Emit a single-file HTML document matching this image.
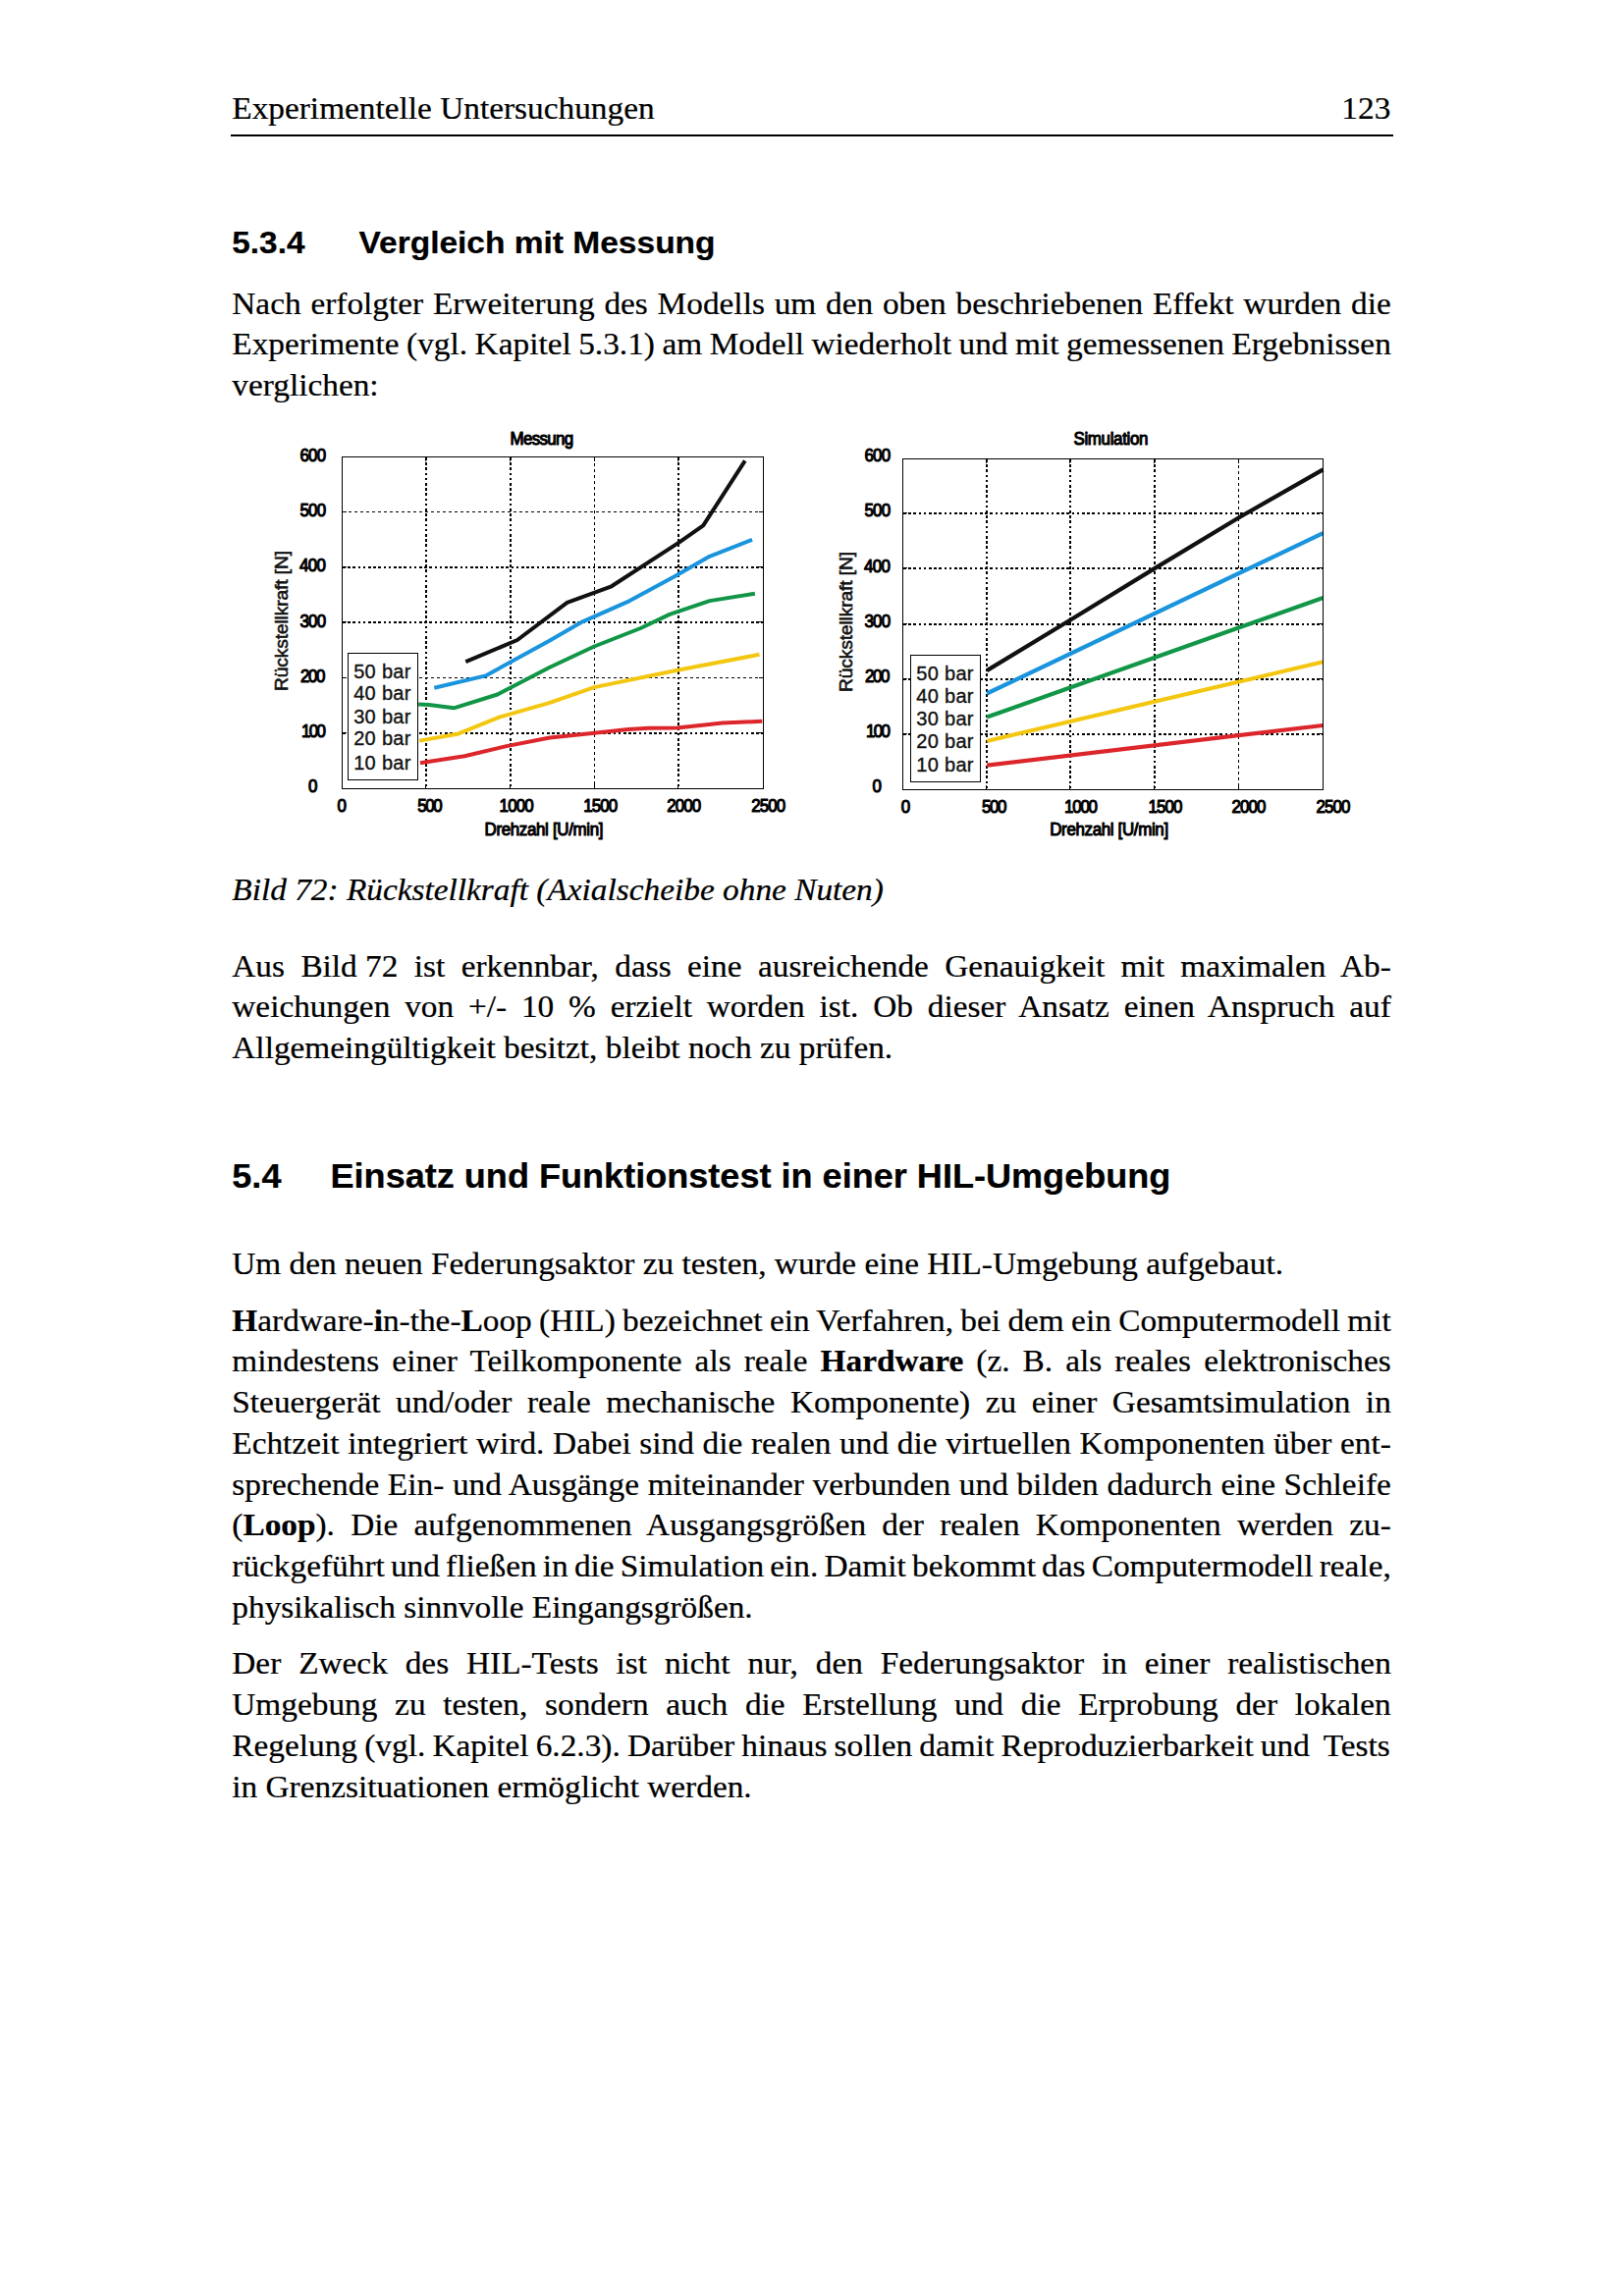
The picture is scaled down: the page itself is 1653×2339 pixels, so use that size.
<!DOCTYPE html>
<html lang="de"><head><meta charset="utf-8"><title>Experimentelle Untersuchungen 123</title>
<style>
html,body{margin:0;padding:0;background:#fff}
body{width:1653px;height:2339px;position:relative;overflow:hidden;color:#000;-webkit-text-stroke:0.25px #000;font-family:"Liberation Serif",serif;font-size:33.33px;line-height:42px}
.l{position:absolute;left:236.3px;width:1180.5px;white-space:nowrap;height:42px;transform-origin:0 32.25px;transform:scaleY(0.955)}
.cap{font-style:italic}
.nb{display:inline-block;word-spacing:0}
.hd{position:absolute;white-space:nowrap;transform-origin:0 32.25px;transform:scaleY(0.955)}
.rule{position:absolute;left:235px;width:1184px;top:137px;height:2px;background:#000}
.h{position:absolute;font-family:"Liberation Sans",sans-serif;font-weight:bold;line-height:44px;white-space:nowrap;transform:scaleY(0.95)}
.ch{position:absolute;left:0;top:0}
.g{stroke:#000;fill:none;shape-rendering:crispEdges}
.c{fill:none;stroke-linejoin:round;stroke-linecap:butt}
.bx{fill:none;stroke:#000;stroke-width:1;shape-rendering:crispEdges}
.lg{fill:#fff;stroke:#000;stroke-width:1;shape-rendering:crispEdges}
.lt{font-family:"Liberation Sans",sans-serif;font-size:20px;letter-spacing:0.3px;fill:#111;stroke:#111;stroke-width:0.35px}
.tk{font-family:"Liberation Sans",sans-serif;font-size:18.8px;fill:#000;stroke:#000;stroke-width:1.15px;stroke-linejoin:round}
.yl{font-family:"Liberation Sans",sans-serif;font-size:19.2px;fill:#111;stroke:#111;stroke-width:0.6px}
</style></head>
<body>

<div class="hd" style="top:88.55px;left:236.3px">Experimentelle Untersuchungen</div>
<div class="hd" style="top:88.55px;left:236.3px;width:1180.0px;text-align:right">123</div>
<div class="rule"></div>
<div class="h" style="top:225.35px;left:236.3px;font-size:33.33px;transform-origin:0 33.55px">5.3.4</div>
<div class="h" style="top:225.29px;left:365.5px;font-size:33.5px;transform-origin:0 33.61px">Vergleich mit Messung</div>
<div class="h" style="top:1176.49px;left:236.3px;font-size:36.1px;transform-origin:0 34.51px">5.4</div>
<div class="h" style="top:1176.49px;left:336.5px;font-size:36.1px;transform-origin:0 34.51px">Einsatz und Funktionstest in einer HIL-Umgebung</div>

<div class="l" style="top:287.85px;word-spacing:1.450px">Nach erfolgter Erweiterung des Modells um den oben beschriebenen Effekt wurden die</div>
<div class="l" style="top:329.35px;word-spacing:-0.823px">Experimente (vgl. Kapitel 5.3.1) am Modell wiederholt und mit gemessenen Ergebnissen</div>
<div class="l" style="top:370.85px">verglichen:</div>
<div class="l cap" style="top:885.15px">Bild 72: Rückstellkraft (Axialscheibe ohne Nuten)</div>
<div class="l" style="top:962.75px;word-spacing:8.042px">Aus <span class="nb">Bild&nbsp;72</span> ist erkennbar, dass eine ausreichende Genauigkeit mit maximalen Ab-</div>
<div class="l" style="top:1004.25px;word-spacing:6.492px">weichungen von +/- 10 % erzielt worden ist. Ob dieser Ansatz einen Anspruch auf</div>
<div class="l" style="top:1045.85px">Allgemeingültigkeit besitzt, bleibt noch zu prüfen.</div>
<div class="l" style="top:1266.45px">Um den neuen Federungsaktor zu testen, wurde eine HIL-Umgebung aufgebaut.</div>
<div class="l" style="top:1323.65px;word-spacing:-1.005px"><b>H</b>ardware-<b>i</b>n-the-<b>L</b>oop (HIL) bezeichnet ein Verfahren, bei dem ein Computermodell mit</div>
<div class="l" style="top:1365.41px;word-spacing:4.755px">mindestens einer Teilkomponente als reale <b>Hardware</b> (z. B. als reales elektronisches</div>
<div class="l" style="top:1407.17px;word-spacing:7.201px">Steuergerät und/oder reale mechanische Komponente) zu einer Gesamtsimulation in</div>
<div class="l" style="top:1448.93px;word-spacing:0.353px">Echtzeit integriert wird. Dabei sind die realen und die virtuellen Komponenten über ent-</div>
<div class="l" style="top:1490.69px;word-spacing:0.328px">sprechende Ein- und Ausgänge miteinander verbunden und bilden dadurch eine Schleife</div>
<div class="l" style="top:1532.45px;word-spacing:7.926px">(<b>Loop</b>). Die aufgenommenen Ausgangsgrößen der realen Komponenten werden zu-</div>
<div class="l" style="top:1574.21px;word-spacing:-2.152px">rückgeführt und fließen in die Simulation ein. Damit bekommt das Computermodell reale,</div>
<div class="l" style="top:1615.97px">physikalisch sinnvolle Eingangsgrößen.</div>
<div class="l" style="top:1673.35px;word-spacing:9.548px">Der Zweck des HIL-Tests ist nicht nur, den Federungsaktor in einer realistischen</div>
<div class="l" style="top:1715.11px;word-spacing:9.379px">Umgebung zu testen, sondern auch die Erstellung und die Erprobung der lokalen</div>
<div class="l" style="top:1756.87px;word-spacing:-1.145px">Regelung (vgl. Kapitel 6.2.3). Darüber hinaus sollen damit Reproduzierbarkeit und&nbsp; Tests</div>
<div class="l" style="top:1798.63px">in Grenzsituationen ermöglicht werden.</div>
<svg class="ch" width="1653" height="2339" viewBox="0 0 1653 2339">
<line class="g" stroke-width="2" stroke-dasharray="2.6 2.6" x1="434" y1="466.0" x2="434" y2="803.0"/>
<line class="g" stroke-width="2" stroke-dasharray="2.6 2.6" x1="520" y1="466.0" x2="520" y2="803.0"/>
<line class="g" stroke-width="1" stroke-dasharray="3 3" x1="605.5" y1="466.0" x2="605.5" y2="803.0"/>
<line class="g" stroke-width="2" stroke-dasharray="2.6 2.6" x1="691" y1="466.0" x2="691" y2="803.0"/>
<line class="g" stroke-width="1" stroke-dasharray="3 3" x1="349.0" y1="521.5" x2="777.0" y2="521.5"/>
<line class="g" stroke-width="2" stroke-dasharray="2.6 2.6" x1="349.0" y1="578" x2="777.0" y2="578"/>
<line class="g" stroke-width="2" stroke-dasharray="2.6 2.6" x1="349.0" y1="634" x2="777.0" y2="634"/>
<line class="g" stroke-width="1" stroke-dasharray="3 3" x1="349.0" y1="690.5" x2="777.0" y2="690.5"/>
<line class="g" stroke-width="2" stroke-dasharray="2.6 2.6" x1="349.0" y1="747" x2="777.0" y2="747"/>
<path class="bx" d="M433.5 803.5v-4.5M433.5 465.5v4.5"/>
<path class="bx" d="M519.5 803.5v-4.5M519.5 465.5v4.5"/>
<path class="bx" d="M605.5 803.5v-4.5M605.5 465.5v4.5"/>
<path class="bx" d="M690.5 803.5v-4.5M690.5 465.5v4.5"/>
<path class="bx" d="M348.5 521.5h4.5M777.5 521.5h-4.5"/>
<path class="bx" d="M348.5 577.5h4.5M777.5 577.5h-4.5"/>
<path class="bx" d="M348.5 633.5h4.5M777.5 633.5h-4.5"/>
<path class="bx" d="M348.5 690.5h4.5M777.5 690.5h-4.5"/>
<path class="bx" d="M348.5 746.5h4.5M777.5 746.5h-4.5"/>
<polyline class="c" stroke-width="4.0" stroke="#dc262b" points="428.0,777.2 473.3,770.3 515.8,760.1 560.0,751.5 605.3,746.8 640.0,743.0 661.0,741.7 689.6,741.5 720.0,738.3 735.6,736.5 776.3,734.8"/>
<polyline class="c" stroke-width="4.0" stroke="#f3c710" points="427.1,754.6 465.9,747.8 508.4,730.6 560.0,715.8 605.3,700.1 691.2,682.5 773.5,666.8"/>
<polyline class="c" stroke-width="4.0" stroke="#119647" points="426.2,717.6 437.0,718.0 462.2,721.3 506.6,707.5 560.0,679.7 605.3,658.5 652.4,640.0 682.0,625.9 722.7,612.1 768.9,604.7"/>
<polyline class="c" stroke-width="4.0" stroke="#1a94dc" points="442.3,700.8 494.6,688.4 560.0,652.5 593.3,633.3 641.3,612.1 687.5,587.1 722.7,566.8 766.1,549.8"/>
<polyline class="c" stroke-width="4.0" stroke="#111111" points="474.3,674.2 526.9,652.0 577.6,613.9 622.8,597.3 691.2,552.9 716.2,535.4 758.8,469.4"/>
<rect class="bx" x="348.5" y="465.5" width="429.0" height="338.0"/>
<rect class="lg" x="354.5" y="665.5" width="71.0" height="129.0"/>
<text class="lt" x="360.20000000000005" y="690.7">50 bar</text>
<text class="lt" x="360.20000000000005" y="713.4">40 bar</text>
<text class="lt" x="360.20000000000005" y="736.5">30 bar</text>
<text class="lt" x="360.20000000000005" y="759.3">20 bar</text>
<text class="lt" x="360.20000000000005" y="783.7">10 bar</text>
<text class="tk" transform="translate(343.5,827.1) scale(0.9,1)" textLength="8.9" lengthAdjust="spacing">0</text>
<text class="tk" transform="translate(425.2,827.1) scale(0.9,1)" textLength="28.3" lengthAdjust="spacing">500</text>
<text class="tk" transform="translate(508.6,827.1) scale(0.9,1)" textLength="38.9" lengthAdjust="spacing">1000</text>
<text class="tk" transform="translate(594.2,827.1) scale(0.9,1)" textLength="38.9" lengthAdjust="spacing">1500</text>
<text class="tk" transform="translate(679.2,827.1) scale(0.9,1)" textLength="38.9" lengthAdjust="spacing">2000</text>
<text class="tk" transform="translate(765.2,827.1) scale(0.9,1)" textLength="38.9" lengthAdjust="spacing">2500</text>
<text class="tk" transform="translate(305.5,469.8) scale(0.9,1)" textLength="29.6" lengthAdjust="spacing">600</text>
<text class="tk" transform="translate(305.5,525.9) scale(0.9,1)" textLength="29.6" lengthAdjust="spacing">500</text>
<text class="tk" transform="translate(305,582.0) scale(0.9,1)" textLength="30.0" lengthAdjust="spacing">400</text>
<text class="tk" transform="translate(305.5,638.5) scale(0.9,1)" textLength="29.6" lengthAdjust="spacing">300</text>
<text class="tk" transform="translate(306,694.9) scale(0.9,1)" textLength="28.3" lengthAdjust="spacing">200</text>
<text class="tk" transform="translate(307,750.9) scale(0.9,1)" textLength="27.8" lengthAdjust="spacing">100</text>
<text class="tk" transform="translate(314,807.3) scale(0.9,1)" textLength="8.9" lengthAdjust="spacing">0</text>
<text class="tk" transform="translate(519.5,453.3) scale(0.9,1)" textLength="72.0" lengthAdjust="spacing">Messung</text>
<text class="tk" transform="translate(493.5,850.8) scale(0.9,1)" textLength="134.4" lengthAdjust="spacing">Drehzahl [U/min]</text>
<text class="yl" transform="translate(293,632.5) rotate(-90)" text-anchor="middle" textLength="143" lengthAdjust="spacing">Rückstellkraft [N]</text>
<line class="g" stroke-width="2" stroke-dasharray="2.6 2.6" x1="1005" y1="468.0" x2="1005" y2="804.0"/>
<line class="g" stroke-width="2" stroke-dasharray="2.6 2.6" x1="1090" y1="468.0" x2="1090" y2="804.0"/>
<line class="g" stroke-width="2" stroke-dasharray="2.6 2.6" x1="1176" y1="468.0" x2="1176" y2="804.0"/>
<line class="g" stroke-width="1" stroke-dasharray="3 3" x1="1261.5" y1="468.0" x2="1261.5" y2="804.0"/>
<line class="g" stroke-width="2" stroke-dasharray="2.6 2.6" x1="920.0" y1="523" x2="1347.0" y2="523"/>
<line class="g" stroke-width="2" stroke-dasharray="2.6 2.6" x1="920.0" y1="579" x2="1347.0" y2="579"/>
<line class="g" stroke-width="2" stroke-dasharray="2.6 2.6" x1="920.0" y1="636" x2="1347.0" y2="636"/>
<line class="g" stroke-width="2" stroke-dasharray="2.6 2.6" x1="920.0" y1="692" x2="1347.0" y2="692"/>
<line class="g" stroke-width="2" stroke-dasharray="2.6 2.6" x1="920.0" y1="748" x2="1347.0" y2="748"/>
<path class="bx" d="M1004.5 804.5v-4.5M1004.5 467.5v4.5"/>
<path class="bx" d="M1089.5 804.5v-4.5M1089.5 467.5v4.5"/>
<path class="bx" d="M1175.5 804.5v-4.5M1175.5 467.5v4.5"/>
<path class="bx" d="M1261.5 804.5v-4.5M1261.5 467.5v4.5"/>
<path class="bx" d="M919.5 522.5h4.5M1347.5 522.5h-4.5"/>
<path class="bx" d="M919.5 578.5h4.5M1347.5 578.5h-4.5"/>
<path class="bx" d="M919.5 635.5h4.5M1347.5 635.5h-4.5"/>
<path class="bx" d="M919.5 691.5h4.5M1347.5 691.5h-4.5"/>
<path class="bx" d="M919.5 747.5h4.5M1347.5 747.5h-4.5"/>
<polyline class="c" stroke-width="4.2" stroke="#dc262b" points="1005.1,779.6 1347.5,739.0"/>
<polyline class="c" stroke-width="4.2" stroke="#f3c710" points="1005.1,755.0 1347.5,674.3"/>
<polyline class="c" stroke-width="4.2" stroke="#119647" points="1005.1,730.6 1347.5,608.9"/>
<polyline class="c" stroke-width="4.2" stroke="#1a94dc" points="1005.1,706.5 1347.5,543.1"/>
<polyline class="c" stroke-width="4.2" stroke="#111111" points="1005.1,683.1 1090.7,631.3 1176.3,578.9 1261.9,527.2 1347.5,478.4"/>
<rect class="bx" x="919.5" y="467.5" width="428.0" height="337.0"/>
<rect class="lg" x="927.5" y="667.5" width="71.0" height="129.0"/>
<text class="lt" x="933.3000000000001" y="692.7">50 bar</text>
<text class="lt" x="933.3000000000001" y="715.8">40 bar</text>
<text class="lt" x="933.3000000000001" y="739.3">30 bar</text>
<text class="lt" x="933.3000000000001" y="762.4">20 bar</text>
<text class="lt" x="933.3000000000001" y="785.5">10 bar</text>
<text class="tk" transform="translate(917.7,828.1) scale(0.9,1)" textLength="8.9" lengthAdjust="spacing">0</text>
<text class="tk" transform="translate(999.9,828.1) scale(0.9,1)" textLength="28.3" lengthAdjust="spacing">500</text>
<text class="tk" transform="translate(1084,828.1) scale(0.9,1)" textLength="37.8" lengthAdjust="spacing">1000</text>
<text class="tk" transform="translate(1169.5,828.1) scale(0.9,1)" textLength="38.9" lengthAdjust="spacing">1500</text>
<text class="tk" transform="translate(1254.5,828.1) scale(0.9,1)" textLength="38.9" lengthAdjust="spacing">2000</text>
<text class="tk" transform="translate(1340.5,828.1) scale(0.9,1)" textLength="38.9" lengthAdjust="spacing">2500</text>
<text class="tk" transform="translate(880.5,469.7) scale(0.9,1)" textLength="29.6" lengthAdjust="spacing">600</text>
<text class="tk" transform="translate(880.5,526.1) scale(0.9,1)" textLength="29.6" lengthAdjust="spacing">500</text>
<text class="tk" transform="translate(880,582.5) scale(0.9,1)" textLength="30.0" lengthAdjust="spacing">400</text>
<text class="tk" transform="translate(880.5,638.9) scale(0.9,1)" textLength="29.6" lengthAdjust="spacing">300</text>
<text class="tk" transform="translate(881,694.9) scale(0.9,1)" textLength="28.3" lengthAdjust="spacing">200</text>
<text class="tk" transform="translate(882,750.9) scale(0.9,1)" textLength="27.8" lengthAdjust="spacing">100</text>
<text class="tk" transform="translate(888.4,807.3) scale(0.9,1)" textLength="8.9" lengthAdjust="spacing">0</text>
<text class="tk" transform="translate(1093.5,453.3) scale(0.9,1)" textLength="84.4" lengthAdjust="spacing">Simulation</text>
<text class="tk" transform="translate(1069.2,851.1) scale(0.9,1)" textLength="134.4" lengthAdjust="spacing">Drehzahl [U/min]</text>
<text class="yl" transform="translate(868,633.5) rotate(-90)" text-anchor="middle" textLength="143" lengthAdjust="spacing">Rückstellkraft [N]</text>
</svg>
</body></html>
